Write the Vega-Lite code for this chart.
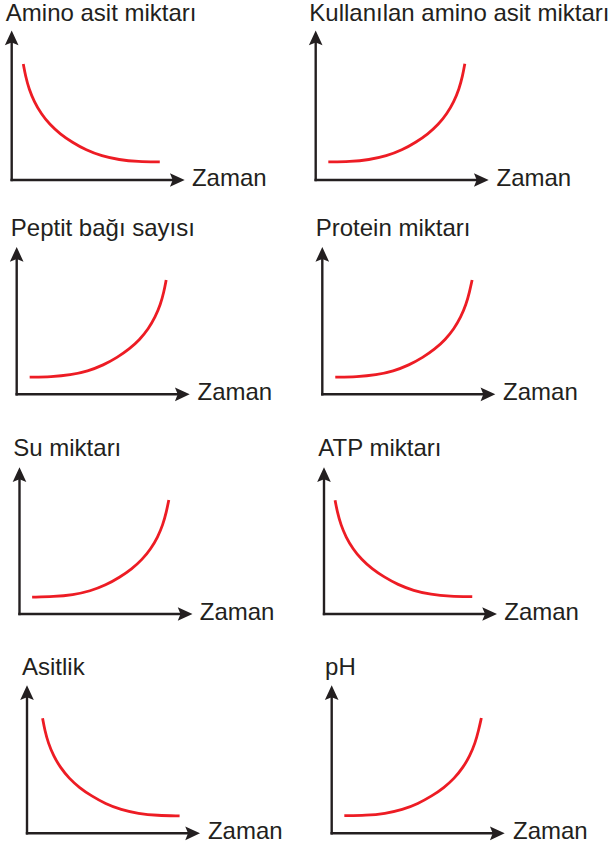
{
  "$schema": "https://vega.github.io/schema/vega-lite/v6.json",
  "padding": 0,
  "background": "white",
  "config": {"view": {"stroke": null}},
  "datasets": {
    "curves": [
      {"panel": "Amino asit miktarı", "t": 0.67, "v": 7.76},
      {"panel": "Amino asit miktarı", "t": 0.8, "v": 6.95},
      {"panel": "Amino asit miktarı", "t": 1.0, "v": 6.09},
      {"panel": "Amino asit miktarı", "t": 1.3, "v": 5.24},
      {"panel": "Amino asit miktarı", "t": 1.7, "v": 4.44},
      {"panel": "Amino asit miktarı", "t": 2.2, "v": 3.71},
      {"panel": "Amino asit miktarı", "t": 2.8, "v": 3.08},
      {"panel": "Amino asit miktarı", "t": 3.5, "v": 2.52},
      {"panel": "Amino asit miktarı", "t": 4.3, "v": 2.0},
      {"panel": "Amino asit miktarı", "t": 5.2, "v": 1.6},
      {"panel": "Amino asit miktarı", "t": 6.2, "v": 1.35},
      {"panel": "Amino asit miktarı", "t": 7.3, "v": 1.23},
      {"panel": "Amino asit miktarı", "t": 8.56, "v": 1.21},

      {"panel": "Kullanılan amino asit miktarı", "t": 0.73, "v": 1.21},
      {"panel": "Kullanılan amino asit miktarı", "t": 1.99, "v": 1.23},
      {"panel": "Kullanılan amino asit miktarı", "t": 3.09, "v": 1.35},
      {"panel": "Kullanılan amino asit miktarı", "t": 4.09, "v": 1.6},
      {"panel": "Kullanılan amino asit miktarı", "t": 4.99, "v": 2.0},
      {"panel": "Kullanılan amino asit miktarı", "t": 5.79, "v": 2.52},
      {"panel": "Kullanılan amino asit miktarı", "t": 6.49, "v": 3.08},
      {"panel": "Kullanılan amino asit miktarı", "t": 7.09, "v": 3.71},
      {"panel": "Kullanılan amino asit miktarı", "t": 7.59, "v": 4.44},
      {"panel": "Kullanılan amino asit miktarı", "t": 7.99, "v": 5.24},
      {"panel": "Kullanılan amino asit miktarı", "t": 8.29, "v": 6.09},
      {"panel": "Kullanılan amino asit miktarı", "t": 8.49, "v": 6.95},
      {"panel": "Kullanılan amino asit miktarı", "t": 8.62, "v": 7.78},

      {"panel": "Peptit bağı sayısı", "t": 0.75, "v": 1.16},
      {"panel": "Peptit bağı sayısı", "t": 2.01, "v": 1.19},
      {"panel": "Peptit bağı sayısı", "t": 3.11, "v": 1.31},
      {"panel": "Peptit bağı sayısı", "t": 4.11, "v": 1.57},
      {"panel": "Peptit bağı sayısı", "t": 5.01, "v": 1.98},
      {"panel": "Peptit bağı sayısı", "t": 5.81, "v": 2.5},
      {"panel": "Peptit bağı sayısı", "t": 6.51, "v": 3.07},
      {"panel": "Peptit bağı sayısı", "t": 7.11, "v": 3.71},
      {"panel": "Peptit bağı sayısı", "t": 7.61, "v": 4.44},
      {"panel": "Peptit bağı sayısı", "t": 8.01, "v": 5.24},
      {"panel": "Peptit bağı sayısı", "t": 8.31, "v": 6.09},
      {"panel": "Peptit bağı sayısı", "t": 8.51, "v": 6.95},
      {"panel": "Peptit bağı sayısı", "t": 8.64, "v": 7.76},

      {"panel": "Protein miktarı", "t": 0.75, "v": 1.16},
      {"panel": "Protein miktarı", "t": 2.01, "v": 1.19},
      {"panel": "Protein miktarı", "t": 3.11, "v": 1.31},
      {"panel": "Protein miktarı", "t": 4.11, "v": 1.57},
      {"panel": "Protein miktarı", "t": 5.01, "v": 1.98},
      {"panel": "Protein miktarı", "t": 5.81, "v": 2.5},
      {"panel": "Protein miktarı", "t": 6.51, "v": 3.07},
      {"panel": "Protein miktarı", "t": 7.11, "v": 3.71},
      {"panel": "Protein miktarı", "t": 7.61, "v": 4.44},
      {"panel": "Protein miktarı", "t": 8.01, "v": 5.24},
      {"panel": "Protein miktarı", "t": 8.31, "v": 6.09},
      {"panel": "Protein miktarı", "t": 8.51, "v": 6.95},
      {"panel": "Protein miktarı", "t": 8.66, "v": 7.76},

      {"panel": "Su miktarı", "t": 0.73, "v": 1.15},
      {"panel": "Su miktarı", "t": 1.99, "v": 1.18},
      {"panel": "Su miktarı", "t": 3.09, "v": 1.3},
      {"panel": "Su miktarı", "t": 4.09, "v": 1.56},
      {"panel": "Su miktarı", "t": 4.99, "v": 1.97},
      {"panel": "Su miktarı", "t": 5.79, "v": 2.5},
      {"panel": "Su miktarı", "t": 6.49, "v": 3.07},
      {"panel": "Su miktarı", "t": 7.09, "v": 3.71},
      {"panel": "Su miktarı", "t": 7.59, "v": 4.44},
      {"panel": "Su miktarı", "t": 7.99, "v": 5.24},
      {"panel": "Su miktarı", "t": 8.29, "v": 6.09},
      {"panel": "Su miktarı", "t": 8.49, "v": 6.95},
      {"panel": "Su miktarı", "t": 8.63, "v": 7.77},

      {"panel": "ATP miktarı", "t": 0.64, "v": 7.76},
      {"panel": "ATP miktarı", "t": 0.77, "v": 6.95},
      {"panel": "ATP miktarı", "t": 0.97, "v": 6.09},
      {"panel": "ATP miktarı", "t": 1.27, "v": 5.24},
      {"panel": "ATP miktarı", "t": 1.67, "v": 4.44},
      {"panel": "ATP miktarı", "t": 2.17, "v": 3.71},
      {"panel": "ATP miktarı", "t": 2.77, "v": 3.08},
      {"panel": "ATP miktarı", "t": 3.47, "v": 2.52},
      {"panel": "ATP miktarı", "t": 4.27, "v": 2.0},
      {"panel": "ATP miktarı", "t": 5.17, "v": 1.59},
      {"panel": "ATP miktarı", "t": 6.17, "v": 1.33},
      {"panel": "ATP miktarı", "t": 7.27, "v": 1.2},
      {"panel": "ATP miktarı", "t": 8.57, "v": 1.18},

      {"panel": "Asitlik", "t": 0.9, "v": 7.77},
      {"panel": "Asitlik", "t": 1.03, "v": 6.95},
      {"panel": "Asitlik", "t": 1.23, "v": 6.09},
      {"panel": "Asitlik", "t": 1.53, "v": 5.24},
      {"panel": "Asitlik", "t": 1.93, "v": 4.44},
      {"panel": "Asitlik", "t": 2.43, "v": 3.71},
      {"panel": "Asitlik", "t": 3.03, "v": 3.08},
      {"panel": "Asitlik", "t": 3.73, "v": 2.52},
      {"panel": "Asitlik", "t": 4.53, "v": 2.0},
      {"panel": "Asitlik", "t": 5.43, "v": 1.59},
      {"panel": "Asitlik", "t": 6.43, "v": 1.33},
      {"panel": "Asitlik", "t": 7.53, "v": 1.2},
      {"panel": "Asitlik", "t": 8.82, "v": 1.18},

      {"panel": "pH", "t": 0.73, "v": 1.19},
      {"panel": "pH", "t": 1.99, "v": 1.21},
      {"panel": "pH", "t": 3.09, "v": 1.33},
      {"panel": "pH", "t": 4.09, "v": 1.59},
      {"panel": "pH", "t": 4.99, "v": 2.0},
      {"panel": "pH", "t": 5.79, "v": 2.52},
      {"panel": "pH", "t": 6.49, "v": 3.08},
      {"panel": "pH", "t": 7.09, "v": 3.71},
      {"panel": "pH", "t": 7.59, "v": 4.44},
      {"panel": "pH", "t": 7.99, "v": 5.24},
      {"panel": "pH", "t": 8.29, "v": 6.09},
      {"panel": "pH", "t": 8.49, "v": 6.95},
      {"panel": "pH", "t": 8.65, "v": 7.79}
    ]
  },
  "columns": 2,
  "align": "each",
  "bounds": "flush",
  "spacing": {"row": 0, "column": 14},
  "concat": [
    {
      "width": 290, "height": 205,
      "data": {"values": [{}]},
      "layer": [
        {"mark": {"type": "rule", "color": "#231f20", "strokeWidth": 2.4, "strokeCap": "square"},
         "encoding": {"x": {"datum": 0, "type": "quantitative", "scale": {"domain": [-0.676, 16.087], "nice": false, "zero": false}, "axis": null},
                      "y": {"datum": 0, "type": "quantitative", "scale": {"domain": [-1.672, 12.04], "nice": false, "zero": false}, "axis": null},
                      "y2": {"datum": 9.45}}},
        {"mark": {"type": "rule", "color": "#231f20", "strokeWidth": 2.4, "strokeCap": "square"},
         "encoding": {"x": {"datum": 0, "type": "quantitative", "scale": {"domain": [-0.676, 16.087], "nice": false, "zero": false}, "axis": null},
                      "x2": {"datum": 9.5},
                      "y": {"datum": 0, "type": "quantitative", "scale": {"domain": [-1.672, 12.04], "nice": false, "zero": false}, "axis": null}}},
        {"mark": {"type": "point", "shape": "M0,0L0.74,1.6L0,1.3L-0.74,1.6Z", "filled": true, "size": 340, "color": "#231f20", "opacity": 1},
         "encoding": {"x": {"datum": 0, "type": "quantitative", "scale": {"domain": [-0.676, 16.087], "nice": false, "zero": false}, "axis": null},
                      "y": {"datum": 10, "type": "quantitative", "scale": {"domain": [-1.672, 12.04], "nice": false, "zero": false}, "axis": null}}},
        {"mark": {"type": "point", "shape": "M0,0L-1.6,-0.74L-1.3,0L-1.6,0.74Z", "filled": true, "size": 340, "color": "#231f20", "opacity": 1},
         "encoding": {"x": {"datum": 10, "type": "quantitative", "scale": {"domain": [-0.676, 16.087], "nice": false, "zero": false}, "axis": null},
                      "y": {"datum": 0, "type": "quantitative", "scale": {"domain": [-1.672, 12.04], "nice": false, "zero": false}, "axis": null}}},
        {"data": {"name": "curves"},
         "transform": [{"filter": "datum.panel === 'Amino asit miktarı'"}],
         "mark": {"type": "line", "color": "#ed1c24", "strokeWidth": 2.8, "interpolate": "basis"},
         "encoding": {"x": {"field": "t", "type": "quantitative", "scale": {"domain": [-0.676, 16.087], "nice": false, "zero": false}, "axis": null},
                      "y": {"field": "v", "type": "quantitative", "scale": {"domain": [-1.672, 12.04], "nice": false, "zero": false}, "axis": null}}},
        {"mark": {"type": "text", "text": "Amino asit miktarı", "align": "left", "baseline": "alphabetic", "font": "Liberation Sans", "fontSize": 24, "color": "#231f20"},
         "encoding": {"x": {"datum": -0.34, "type": "quantitative", "scale": {"domain": [-0.676, 16.087], "nice": false, "zero": false}, "axis": null},
                      "y": {"datum": 10.65, "type": "quantitative", "scale": {"domain": [-1.672, 12.04], "nice": false, "zero": false}, "axis": null}}},
        {"mark": {"type": "text", "text": "Zaman", "align": "left", "baseline": "alphabetic", "font": "Liberation Sans", "fontSize": 24, "color": "#231f20"},
         "encoding": {"x": {"datum": 10.42, "type": "quantitative", "scale": {"domain": [-0.676, 16.087], "nice": false, "zero": false}, "axis": null},
                      "y": {"datum": -0.41, "type": "quantitative", "scale": {"domain": [-1.672, 12.04], "nice": false, "zero": false}, "axis": null}}}
      ]
    },
    {
      "width": 290, "height": 205,
      "data": {"values": [{}]},
      "layer": [
        {"mark": {"type": "rule", "color": "#231f20", "strokeWidth": 2.4, "strokeCap": "square"},
         "encoding": {"x": {"datum": 0, "type": "quantitative", "scale": {"domain": [-0.676, 16.087], "nice": false, "zero": false}, "axis": null},
                      "y": {"datum": 0, "type": "quantitative", "scale": {"domain": [-1.672, 12.04], "nice": false, "zero": false}, "axis": null},
                      "y2": {"datum": 9.45}}},
        {"mark": {"type": "rule", "color": "#231f20", "strokeWidth": 2.4, "strokeCap": "square"},
         "encoding": {"x": {"datum": 0, "type": "quantitative", "scale": {"domain": [-0.676, 16.087], "nice": false, "zero": false}, "axis": null},
                      "x2": {"datum": 9.5},
                      "y": {"datum": 0, "type": "quantitative", "scale": {"domain": [-1.672, 12.04], "nice": false, "zero": false}, "axis": null}}},
        {"mark": {"type": "point", "shape": "M0,0L0.74,1.6L0,1.3L-0.74,1.6Z", "filled": true, "size": 340, "color": "#231f20", "opacity": 1},
         "encoding": {"x": {"datum": 0, "type": "quantitative", "scale": {"domain": [-0.676, 16.087], "nice": false, "zero": false}, "axis": null},
                      "y": {"datum": 10, "type": "quantitative", "scale": {"domain": [-1.672, 12.04], "nice": false, "zero": false}, "axis": null}}},
        {"mark": {"type": "point", "shape": "M0,0L-1.6,-0.74L-1.3,0L-1.6,0.74Z", "filled": true, "size": 340, "color": "#231f20", "opacity": 1},
         "encoding": {"x": {"datum": 10, "type": "quantitative", "scale": {"domain": [-0.676, 16.087], "nice": false, "zero": false}, "axis": null},
                      "y": {"datum": 0, "type": "quantitative", "scale": {"domain": [-1.672, 12.04], "nice": false, "zero": false}, "axis": null}}},
        {"data": {"name": "curves"},
         "transform": [{"filter": "datum.panel === 'Kullanılan amino asit miktarı'"}],
         "mark": {"type": "line", "color": "#ed1c24", "strokeWidth": 2.8, "interpolate": "basis"},
         "encoding": {"x": {"field": "t", "type": "quantitative", "scale": {"domain": [-0.676, 16.087], "nice": false, "zero": false}, "axis": null},
                      "y": {"field": "v", "type": "quantitative", "scale": {"domain": [-1.672, 12.04], "nice": false, "zero": false}, "axis": null}}},
        {"mark": {"type": "text", "text": "Kullanılan amino asit miktarı", "align": "left", "baseline": "alphabetic", "font": "Liberation Sans", "fontSize": 24, "color": "#231f20"},
         "encoding": {"x": {"datum": -0.37, "type": "quantitative", "scale": {"domain": [-0.676, 16.087], "nice": false, "zero": false}, "axis": null},
                      "y": {"datum": 10.65, "type": "quantitative", "scale": {"domain": [-1.672, 12.04], "nice": false, "zero": false}, "axis": null}}},
        {"mark": {"type": "text", "text": "Zaman", "align": "left", "baseline": "alphabetic", "font": "Liberation Sans", "fontSize": 24, "color": "#231f20"},
         "encoding": {"x": {"datum": 10.45, "type": "quantitative", "scale": {"domain": [-0.676, 16.087], "nice": false, "zero": false}, "axis": null},
                      "y": {"datum": -0.41, "type": "quantitative", "scale": {"domain": [-1.672, 12.04], "nice": false, "zero": false}, "axis": null}}}
      ]
    },
    {
      "width": 290, "height": 220,
      "data": {"values": [{}]},
      "layer": [
        {"mark": {"type": "rule", "color": "#231f20", "strokeWidth": 2.4, "strokeCap": "square"},
         "encoding": {"x": {"datum": 0, "type": "quantitative", "scale": {"domain": [-0.965, 15.798], "nice": false, "zero": false}, "axis": null},
                      "y": {"datum": 0, "type": "quantitative", "scale": {"domain": [-2.084, 12.852], "nice": false, "zero": false}, "axis": null},
                      "y2": {"datum": 9.45}}},
        {"mark": {"type": "rule", "color": "#231f20", "strokeWidth": 2.4, "strokeCap": "square"},
         "encoding": {"x": {"datum": 0, "type": "quantitative", "scale": {"domain": [-0.965, 15.798], "nice": false, "zero": false}, "axis": null},
                      "x2": {"datum": 9.5},
                      "y": {"datum": 0, "type": "quantitative", "scale": {"domain": [-2.084, 12.852], "nice": false, "zero": false}, "axis": null}}},
        {"mark": {"type": "point", "shape": "M0,0L0.74,1.6L0,1.3L-0.74,1.6Z", "filled": true, "size": 340, "color": "#231f20", "opacity": 1},
         "encoding": {"x": {"datum": 0, "type": "quantitative", "scale": {"domain": [-0.965, 15.798], "nice": false, "zero": false}, "axis": null},
                      "y": {"datum": 10, "type": "quantitative", "scale": {"domain": [-2.084, 12.852], "nice": false, "zero": false}, "axis": null}}},
        {"mark": {"type": "point", "shape": "M0,0L-1.6,-0.74L-1.3,0L-1.6,0.74Z", "filled": true, "size": 340, "color": "#231f20", "opacity": 1},
         "encoding": {"x": {"datum": 10, "type": "quantitative", "scale": {"domain": [-0.965, 15.798], "nice": false, "zero": false}, "axis": null},
                      "y": {"datum": 0, "type": "quantitative", "scale": {"domain": [-2.084, 12.852], "nice": false, "zero": false}, "axis": null}}},
        {"data": {"name": "curves"},
         "transform": [{"filter": "datum.panel === 'Peptit bağı sayısı'"}],
         "mark": {"type": "line", "color": "#ed1c24", "strokeWidth": 2.8, "interpolate": "basis"},
         "encoding": {"x": {"field": "t", "type": "quantitative", "scale": {"domain": [-0.965, 15.798], "nice": false, "zero": false}, "axis": null},
                      "y": {"field": "v", "type": "quantitative", "scale": {"domain": [-2.084, 12.852], "nice": false, "zero": false}, "axis": null}}},
        {"mark": {"type": "text", "text": "Peptit bağı sayısı", "align": "left", "baseline": "alphabetic", "font": "Liberation Sans", "fontSize": 24, "color": "#231f20"},
         "encoding": {"x": {"datum": -0.34, "type": "quantitative", "scale": {"domain": [-0.965, 15.798], "nice": false, "zero": false}, "axis": null},
                      "y": {"datum": 10.74, "type": "quantitative", "scale": {"domain": [-2.084, 12.852], "nice": false, "zero": false}, "axis": null}}},
        {"mark": {"type": "text", "text": "Zaman", "align": "left", "baseline": "alphabetic", "font": "Liberation Sans", "fontSize": 24, "color": "#231f20"},
         "encoding": {"x": {"datum": 10.45, "type": "quantitative", "scale": {"domain": [-0.965, 15.798], "nice": false, "zero": false}, "axis": null},
                      "y": {"datum": -0.41, "type": "quantitative", "scale": {"domain": [-2.084, 12.852], "nice": false, "zero": false}, "axis": null}}}
      ]
    },
    {
      "width": 290, "height": 220,
      "data": {"values": [{}]},
      "layer": [
        {"mark": {"type": "rule", "color": "#231f20", "strokeWidth": 2.4, "strokeCap": "square"},
         "encoding": {"x": {"datum": 0, "type": "quantitative", "scale": {"domain": [-1.058, 15.705], "nice": false, "zero": false}, "axis": null},
                      "y": {"datum": 0, "type": "quantitative", "scale": {"domain": [-2.084, 12.852], "nice": false, "zero": false}, "axis": null},
                      "y2": {"datum": 9.45}}},
        {"mark": {"type": "rule", "color": "#231f20", "strokeWidth": 2.4, "strokeCap": "square"},
         "encoding": {"x": {"datum": 0, "type": "quantitative", "scale": {"domain": [-1.058, 15.705], "nice": false, "zero": false}, "axis": null},
                      "x2": {"datum": 9.5},
                      "y": {"datum": 0, "type": "quantitative", "scale": {"domain": [-2.084, 12.852], "nice": false, "zero": false}, "axis": null}}},
        {"mark": {"type": "point", "shape": "M0,0L0.74,1.6L0,1.3L-0.74,1.6Z", "filled": true, "size": 340, "color": "#231f20", "opacity": 1},
         "encoding": {"x": {"datum": 0, "type": "quantitative", "scale": {"domain": [-1.058, 15.705], "nice": false, "zero": false}, "axis": null},
                      "y": {"datum": 10, "type": "quantitative", "scale": {"domain": [-2.084, 12.852], "nice": false, "zero": false}, "axis": null}}},
        {"mark": {"type": "point", "shape": "M0,0L-1.6,-0.74L-1.3,0L-1.6,0.74Z", "filled": true, "size": 340, "color": "#231f20", "opacity": 1},
         "encoding": {"x": {"datum": 10, "type": "quantitative", "scale": {"domain": [-1.058, 15.705], "nice": false, "zero": false}, "axis": null},
                      "y": {"datum": 0, "type": "quantitative", "scale": {"domain": [-2.084, 12.852], "nice": false, "zero": false}, "axis": null}}},
        {"data": {"name": "curves"},
         "transform": [{"filter": "datum.panel === 'Protein miktarı'"}],
         "mark": {"type": "line", "color": "#ed1c24", "strokeWidth": 2.8, "interpolate": "basis"},
         "encoding": {"x": {"field": "t", "type": "quantitative", "scale": {"domain": [-1.058, 15.705], "nice": false, "zero": false}, "axis": null},
                      "y": {"field": "v", "type": "quantitative", "scale": {"domain": [-2.084, 12.852], "nice": false, "zero": false}, "axis": null}}},
        {"mark": {"type": "text", "text": "Protein miktarı", "align": "left", "baseline": "alphabetic", "font": "Liberation Sans", "fontSize": 24, "color": "#231f20"},
         "encoding": {"x": {"datum": -0.38, "type": "quantitative", "scale": {"domain": [-1.058, 15.705], "nice": false, "zero": false}, "axis": null},
                      "y": {"datum": 10.74, "type": "quantitative", "scale": {"domain": [-2.084, 12.852], "nice": false, "zero": false}, "axis": null}}},
        {"mark": {"type": "text", "text": "Zaman", "align": "left", "baseline": "alphabetic", "font": "Liberation Sans", "fontSize": 24, "color": "#231f20"},
         "encoding": {"x": {"datum": 10.45, "type": "quantitative", "scale": {"domain": [-1.058, 15.705], "nice": false, "zero": false}, "axis": null},
                      "y": {"datum": -0.41, "type": "quantitative", "scale": {"domain": [-2.084, 12.852], "nice": false, "zero": false}, "axis": null}}}
      ]
    },
    {
      "width": 290, "height": 218,
      "data": {"values": [{}]},
      "layer": [
        {"mark": {"type": "rule", "color": "#231f20", "strokeWidth": 2.4, "strokeCap": "square"},
         "encoding": {"x": {"datum": 0, "type": "quantitative", "scale": {"domain": [-1.127, 15.636], "nice": false, "zero": false}, "axis": null},
                      "y": {"datum": 0, "type": "quantitative", "scale": {"domain": [-1.977, 12.883], "nice": false, "zero": false}, "axis": null},
                      "y2": {"datum": 9.45}}},
        {"mark": {"type": "rule", "color": "#231f20", "strokeWidth": 2.4, "strokeCap": "square"},
         "encoding": {"x": {"datum": 0, "type": "quantitative", "scale": {"domain": [-1.127, 15.636], "nice": false, "zero": false}, "axis": null},
                      "x2": {"datum": 9.5},
                      "y": {"datum": 0, "type": "quantitative", "scale": {"domain": [-1.977, 12.883], "nice": false, "zero": false}, "axis": null}}},
        {"mark": {"type": "point", "shape": "M0,0L0.74,1.6L0,1.3L-0.74,1.6Z", "filled": true, "size": 340, "color": "#231f20", "opacity": 1},
         "encoding": {"x": {"datum": 0, "type": "quantitative", "scale": {"domain": [-1.127, 15.636], "nice": false, "zero": false}, "axis": null},
                      "y": {"datum": 10, "type": "quantitative", "scale": {"domain": [-1.977, 12.883], "nice": false, "zero": false}, "axis": null}}},
        {"mark": {"type": "point", "shape": "M0,0L-1.6,-0.74L-1.3,0L-1.6,0.74Z", "filled": true, "size": 340, "color": "#231f20", "opacity": 1},
         "encoding": {"x": {"datum": 10, "type": "quantitative", "scale": {"domain": [-1.127, 15.636], "nice": false, "zero": false}, "axis": null},
                      "y": {"datum": 0, "type": "quantitative", "scale": {"domain": [-1.977, 12.883], "nice": false, "zero": false}, "axis": null}}},
        {"data": {"name": "curves"},
         "transform": [{"filter": "datum.panel === 'Su miktarı'"}],
         "mark": {"type": "line", "color": "#ed1c24", "strokeWidth": 2.8, "interpolate": "basis"},
         "encoding": {"x": {"field": "t", "type": "quantitative", "scale": {"domain": [-1.127, 15.636], "nice": false, "zero": false}, "axis": null},
                      "y": {"field": "v", "type": "quantitative", "scale": {"domain": [-1.977, 12.883], "nice": false, "zero": false}, "axis": null}}},
        {"mark": {"type": "text", "text": "Su miktarı", "align": "left", "baseline": "alphabetic", "font": "Liberation Sans", "fontSize": 24, "color": "#231f20"},
         "encoding": {"x": {"datum": -0.36, "type": "quantitative", "scale": {"domain": [-1.127, 15.636], "nice": false, "zero": false}, "axis": null},
                      "y": {"datum": 10.77, "type": "quantitative", "scale": {"domain": [-1.977, 12.883], "nice": false, "zero": false}, "axis": null}}},
        {"mark": {"type": "text", "text": "Zaman", "align": "left", "baseline": "alphabetic", "font": "Liberation Sans", "fontSize": 24, "color": "#231f20"},
         "encoding": {"x": {"datum": 10.42, "type": "quantitative", "scale": {"domain": [-1.127, 15.636], "nice": false, "zero": false}, "axis": null},
                      "y": {"datum": -0.41, "type": "quantitative", "scale": {"domain": [-1.977, 12.883], "nice": false, "zero": false}, "axis": null}}}
      ]
    },
    {
      "width": 290, "height": 218,
      "data": {"values": [{}]},
      "layer": [
        {"mark": {"type": "rule", "color": "#231f20", "strokeWidth": 2.4, "strokeCap": "square"},
         "encoding": {"x": {"datum": 0, "type": "quantitative", "scale": {"domain": [-1.156, 15.607], "nice": false, "zero": false}, "axis": null},
                      "y": {"datum": 0, "type": "quantitative", "scale": {"domain": [-1.977, 12.883], "nice": false, "zero": false}, "axis": null},
                      "y2": {"datum": 9.45}}},
        {"mark": {"type": "rule", "color": "#231f20", "strokeWidth": 2.4, "strokeCap": "square"},
         "encoding": {"x": {"datum": 0, "type": "quantitative", "scale": {"domain": [-1.156, 15.607], "nice": false, "zero": false}, "axis": null},
                      "x2": {"datum": 9.5},
                      "y": {"datum": 0, "type": "quantitative", "scale": {"domain": [-1.977, 12.883], "nice": false, "zero": false}, "axis": null}}},
        {"mark": {"type": "point", "shape": "M0,0L0.74,1.6L0,1.3L-0.74,1.6Z", "filled": true, "size": 340, "color": "#231f20", "opacity": 1},
         "encoding": {"x": {"datum": 0, "type": "quantitative", "scale": {"domain": [-1.156, 15.607], "nice": false, "zero": false}, "axis": null},
                      "y": {"datum": 10, "type": "quantitative", "scale": {"domain": [-1.977, 12.883], "nice": false, "zero": false}, "axis": null}}},
        {"mark": {"type": "point", "shape": "M0,0L-1.6,-0.74L-1.3,0L-1.6,0.74Z", "filled": true, "size": 340, "color": "#231f20", "opacity": 1},
         "encoding": {"x": {"datum": 10, "type": "quantitative", "scale": {"domain": [-1.156, 15.607], "nice": false, "zero": false}, "axis": null},
                      "y": {"datum": 0, "type": "quantitative", "scale": {"domain": [-1.977, 12.883], "nice": false, "zero": false}, "axis": null}}},
        {"data": {"name": "curves"},
         "transform": [{"filter": "datum.panel === 'ATP miktarı'"}],
         "mark": {"type": "line", "color": "#ed1c24", "strokeWidth": 2.8, "interpolate": "basis"},
         "encoding": {"x": {"field": "t", "type": "quantitative", "scale": {"domain": [-1.156, 15.607], "nice": false, "zero": false}, "axis": null},
                      "y": {"field": "v", "type": "quantitative", "scale": {"domain": [-1.977, 12.883], "nice": false, "zero": false}, "axis": null}}},
        {"mark": {"type": "text", "text": "ATP miktarı", "align": "left", "baseline": "alphabetic", "font": "Liberation Sans", "fontSize": 24, "color": "#231f20"},
         "encoding": {"x": {"datum": -0.33, "type": "quantitative", "scale": {"domain": [-1.156, 15.607], "nice": false, "zero": false}, "axis": null},
                      "y": {"datum": 10.77, "type": "quantitative", "scale": {"domain": [-1.977, 12.883], "nice": false, "zero": false}, "axis": null}}},
        {"mark": {"type": "text", "text": "Zaman", "align": "left", "baseline": "alphabetic", "font": "Liberation Sans", "fontSize": 24, "color": "#231f20"},
         "encoding": {"x": {"datum": 10.42, "type": "quantitative", "scale": {"domain": [-1.156, 15.607], "nice": false, "zero": false}, "axis": null},
                      "y": {"datum": -0.41, "type": "quantitative", "scale": {"domain": [-1.977, 12.883], "nice": false, "zero": false}, "axis": null}}}
      ]
    },
    {
      "width": 290, "height": 205,
      "data": {"values": [{}]},
      "layer": [
        {"mark": {"type": "rule", "color": "#231f20", "strokeWidth": 2.4, "strokeCap": "square"},
         "encoding": {"x": {"datum": 0, "type": "quantitative", "scale": {"domain": [-1.561, 15.202], "nice": false, "zero": false}, "axis": null},
                      "y": {"datum": 0, "type": "quantitative", "scale": {"domain": [-0.993, 12.858], "nice": false, "zero": false}, "axis": null},
                      "y2": {"datum": 9.45}}},
        {"mark": {"type": "rule", "color": "#231f20", "strokeWidth": 2.4, "strokeCap": "square"},
         "encoding": {"x": {"datum": 0, "type": "quantitative", "scale": {"domain": [-1.561, 15.202], "nice": false, "zero": false}, "axis": null},
                      "x2": {"datum": 9.5},
                      "y": {"datum": 0, "type": "quantitative", "scale": {"domain": [-0.993, 12.858], "nice": false, "zero": false}, "axis": null}}},
        {"mark": {"type": "point", "shape": "M0,0L0.74,1.6L0,1.3L-0.74,1.6Z", "filled": true, "size": 340, "color": "#231f20", "opacity": 1},
         "encoding": {"x": {"datum": 0, "type": "quantitative", "scale": {"domain": [-1.561, 15.202], "nice": false, "zero": false}, "axis": null},
                      "y": {"datum": 10, "type": "quantitative", "scale": {"domain": [-0.993, 12.858], "nice": false, "zero": false}, "axis": null}}},
        {"mark": {"type": "point", "shape": "M0,0L-1.6,-0.74L-1.3,0L-1.6,0.74Z", "filled": true, "size": 340, "color": "#231f20", "opacity": 1},
         "encoding": {"x": {"datum": 10, "type": "quantitative", "scale": {"domain": [-1.561, 15.202], "nice": false, "zero": false}, "axis": null},
                      "y": {"datum": 0, "type": "quantitative", "scale": {"domain": [-0.993, 12.858], "nice": false, "zero": false}, "axis": null}}},
        {"data": {"name": "curves"},
         "transform": [{"filter": "datum.panel === 'Asitlik'"}],
         "mark": {"type": "line", "color": "#ed1c24", "strokeWidth": 2.8, "interpolate": "basis"},
         "encoding": {"x": {"field": "t", "type": "quantitative", "scale": {"domain": [-1.561, 15.202], "nice": false, "zero": false}, "axis": null},
                      "y": {"field": "v", "type": "quantitative", "scale": {"domain": [-0.993, 12.858], "nice": false, "zero": false}, "axis": null}}},
        {"mark": {"type": "text", "text": "Asitlik", "align": "left", "baseline": "alphabetic", "font": "Liberation Sans", "fontSize": 24, "color": "#231f20"},
         "encoding": {"x": {"datum": -0.29, "type": "quantitative", "scale": {"domain": [-1.561, 15.202], "nice": false, "zero": false}, "axis": null},
                      "y": {"datum": 10.7, "type": "quantitative", "scale": {"domain": [-0.993, 12.858], "nice": false, "zero": false}, "axis": null}}},
        {"mark": {"type": "text", "text": "Zaman", "align": "left", "baseline": "alphabetic", "font": "Liberation Sans", "fontSize": 24, "color": "#231f20"},
         "encoding": {"x": {"datum": 10.46, "type": "quantitative", "scale": {"domain": [-1.561, 15.202], "nice": false, "zero": false}, "axis": null},
                      "y": {"datum": -0.41, "type": "quantitative", "scale": {"domain": [-0.993, 12.858], "nice": false, "zero": false}, "axis": null}}}
      ]
    },
    {
      "width": 290, "height": 205,
      "data": {"values": [{}]},
      "layer": [
        {"mark": {"type": "rule", "color": "#231f20", "strokeWidth": 2.4, "strokeCap": "square"},
         "encoding": {"x": {"datum": 0, "type": "quantitative", "scale": {"domain": [-1.601, 15.162], "nice": false, "zero": false}, "axis": null},
                      "y": {"datum": 0, "type": "quantitative", "scale": {"domain": [-0.993, 12.858], "nice": false, "zero": false}, "axis": null},
                      "y2": {"datum": 9.45}}},
        {"mark": {"type": "rule", "color": "#231f20", "strokeWidth": 2.4, "strokeCap": "square"},
         "encoding": {"x": {"datum": 0, "type": "quantitative", "scale": {"domain": [-1.601, 15.162], "nice": false, "zero": false}, "axis": null},
                      "x2": {"datum": 9.5},
                      "y": {"datum": 0, "type": "quantitative", "scale": {"domain": [-0.993, 12.858], "nice": false, "zero": false}, "axis": null}}},
        {"mark": {"type": "point", "shape": "M0,0L0.74,1.6L0,1.3L-0.74,1.6Z", "filled": true, "size": 340, "color": "#231f20", "opacity": 1},
         "encoding": {"x": {"datum": 0, "type": "quantitative", "scale": {"domain": [-1.601, 15.162], "nice": false, "zero": false}, "axis": null},
                      "y": {"datum": 10, "type": "quantitative", "scale": {"domain": [-0.993, 12.858], "nice": false, "zero": false}, "axis": null}}},
        {"mark": {"type": "point", "shape": "M0,0L-1.6,-0.74L-1.3,0L-1.6,0.74Z", "filled": true, "size": 340, "color": "#231f20", "opacity": 1},
         "encoding": {"x": {"datum": 10, "type": "quantitative", "scale": {"domain": [-1.601, 15.162], "nice": false, "zero": false}, "axis": null},
                      "y": {"datum": 0, "type": "quantitative", "scale": {"domain": [-0.993, 12.858], "nice": false, "zero": false}, "axis": null}}},
        {"data": {"name": "curves"},
         "transform": [{"filter": "datum.panel === 'pH'"}],
         "mark": {"type": "line", "color": "#ed1c24", "strokeWidth": 2.8, "interpolate": "basis"},
         "encoding": {"x": {"field": "t", "type": "quantitative", "scale": {"domain": [-1.601, 15.162], "nice": false, "zero": false}, "axis": null},
                      "y": {"field": "v", "type": "quantitative", "scale": {"domain": [-0.993, 12.858], "nice": false, "zero": false}, "axis": null}}},
        {"mark": {"type": "text", "text": "pH", "align": "left", "baseline": "alphabetic", "font": "Liberation Sans", "fontSize": 24, "color": "#231f20"},
         "encoding": {"x": {"datum": -0.38, "type": "quantitative", "scale": {"domain": [-1.601, 15.162], "nice": false, "zero": false}, "axis": null},
                      "y": {"datum": 10.7, "type": "quantitative", "scale": {"domain": [-0.993, 12.858], "nice": false, "zero": false}, "axis": null}}},
        {"mark": {"type": "text", "text": "Zaman", "align": "left", "baseline": "alphabetic", "font": "Liberation Sans", "fontSize": 24, "color": "#231f20"},
         "encoding": {"x": {"datum": 10.48, "type": "quantitative", "scale": {"domain": [-1.601, 15.162], "nice": false, "zero": false}, "axis": null},
                      "y": {"datum": -0.41, "type": "quantitative", "scale": {"domain": [-0.993, 12.858], "nice": false, "zero": false}, "axis": null}}}
      ]
    }
  ]
}
